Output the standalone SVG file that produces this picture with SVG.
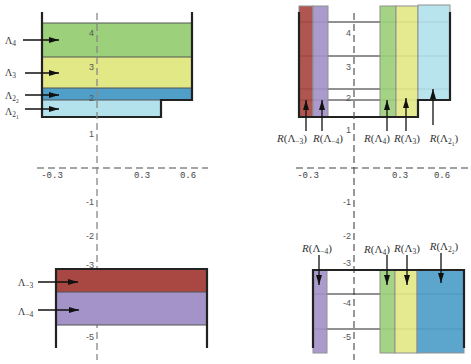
<svg xmlns="http://www.w3.org/2000/svg" width="471" height="364" viewBox="0 0 471 364">
<defs>
<marker id="ah" viewBox="0 0 10 6" refX="10" refY="3" markerWidth="10" markerHeight="6" markerUnits="userSpaceOnUse" orient="auto">
<path d="M0,0 L10,3 L0,6 Z" fill="#111"/>
</marker>
<style>
.ax{stroke:#888;stroke-width:1.3;stroke-dasharray:7 4;fill:none}
.axr{stroke:#444;stroke-width:1.1;stroke-dasharray:7 4;fill:none}
.cont{stroke:#222;stroke-width:2.2;fill:none}
.sep{stroke:#555;stroke-width:1}
.hl{stroke:#222;stroke-width:1}
.bar{stroke:#888;stroke-width:1}
.arr{stroke:#111;stroke-width:1.3;marker-end:url(#ah)}
.tk{font-family:"Liberation Sans",Arial,sans-serif;font-size:9px;fill:#555}
.tx{font-family:"Liberation Mono","Courier New",monospace;font-size:9px;fill:#444}
.lb{font-family:"Liberation Serif","Times New Roman",serif;font-size:10px;fill:#333}
.rl{font-family:"Liberation Serif","Times New Roman",serif;font-size:11px;fill:#333}
.sb{font-size:7.5px}
.ss{font-size:5.5px}
.g{fill:#9dd07b}.y{fill:#e3e887}.b{fill:#4f9fc9}.c{fill:#b3e2ec}.r{fill:#a94843}.p{fill:#a393c8}
</style>
</defs>

<!-- Top-left panel -->
<g id="tl-bands">
<rect class="g" x="42" y="23" width="150" height="34"/>
<rect class="y" x="42" y="57" width="150" height="31"/>
<rect class="b" x="42" y="88" width="150" height="12"/>
<rect class="c" x="42" y="100" width="119" height="17"/>
<line class="sep" x1="42" y1="23" x2="192" y2="23"/>
<line class="sep" x1="42" y1="57" x2="192" y2="57"/>
<line class="sep" x1="42" y1="88" x2="192" y2="88"/>
<line class="sep" x1="42" y1="100" x2="161" y2="100"/>
<path class="cont" d="M42,12 V117 H161 V100 H192 V12"/>
</g>
<g id="tl-axes">
<line class="ax" x1="97" y1="13" x2="97" y2="360"/>
<line class="ax" x1="37" y1="168" x2="208" y2="168"/>
<text class="tk" x="94" y="36" text-anchor="end">4</text>
<text class="tk" x="94" y="70" text-anchor="end">3</text>
<text class="tk" x="94" y="101" text-anchor="end">2</text>
<text class="tk" x="94" y="137" text-anchor="end">1</text>
<text class="tk" x="94" y="205" text-anchor="end">-1</text>
<text class="tk" x="94" y="239" text-anchor="end">-2</text>
<text class="tk" x="94" y="268" text-anchor="end">-3</text>
<text class="tk" x="94" y="306" text-anchor="end">-4</text>
<text class="tk" x="94" y="340" text-anchor="end">-5</text>
<text class="tx" x="52" y="178" text-anchor="middle">-0.3</text>
<text class="tx" x="142" y="178" text-anchor="middle">0.3</text>
<text class="tx" x="188" y="178" text-anchor="middle">0.6</text>
</g>
<g id="tl-labels">
<text class="lb" x="5" y="44">Λ<tspan class="sb" dy="2">4</tspan></text>
<text class="lb" x="5" y="76">Λ<tspan class="sb" dy="2">3</tspan></text>
<text class="lb" x="5" y="99">Λ<tspan class="sb" dy="2">2</tspan><tspan class="ss" dy="2">2</tspan></text>
<text class="lb" x="5" y="115">Λ<tspan class="sb" dy="2">2</tspan><tspan class="ss" dy="2">1</tspan></text>
</g>

<!-- Top-right panel -->
<g id="tr-panel">
<line class="hl" x1="299" y1="22" x2="450" y2="22"/>
<line class="hl" x1="299" y1="56" x2="450" y2="56"/>
<line class="hl" x1="299" y1="89" x2="450" y2="89"/>
<line class="hl" x1="299" y1="100" x2="418" y2="100"/>
<g opacity="0.92">
<rect class="bar r" x="299" y="6" width="14" height="111"/>
<rect class="bar p" x="313" y="6" width="15" height="111"/>
<rect class="bar g" x="380" y="6" width="16" height="111"/>
<rect class="bar y" x="396" y="6" width="22" height="111"/>
<rect class="bar c" x="418" y="5" width="32" height="95"/>
</g>
<path class="cont" d="M299,12 V117 H418 V100 H450 V12"/>
</g>
<g id="tr-axes">
<line class="axr" x1="354" y1="13" x2="354" y2="360"/>
<line class="axr" x1="296" y1="168" x2="470" y2="168"/>
<text class="tk" x="351" y="36" text-anchor="end">4</text>
<text class="tk" x="351" y="70" text-anchor="end">3</text>
<text class="tk" x="351" y="101" text-anchor="end">2</text>
<text class="tk" x="351" y="133" text-anchor="end">1</text>
<text class="tk" x="351" y="205" text-anchor="end">-1</text>
<text class="tk" x="351" y="239" text-anchor="end">-2</text>
<text class="tk" x="351" y="266" text-anchor="end">-3</text>
<text class="tk" x="351" y="306" text-anchor="end">-4</text>
<text class="tk" x="351" y="340" text-anchor="end">-5</text>
<text class="tx" x="308" y="178" text-anchor="middle">-0.3</text>
<text class="tx" x="400" y="178" text-anchor="middle">0.3</text>
<text class="tx" x="442" y="178" text-anchor="middle">0.6</text>
</g>

<!-- Bottom-left panel -->
<g id="bl-panel">
<rect class="r" x="56" y="269" width="151" height="23"/>
<rect class="p" x="56" y="292" width="151" height="33"/>
<line class="sep" x1="56" y1="292" x2="207" y2="292"/>
<line class="sep" x1="56" y1="325" x2="207" y2="325"/>
<path class="cont" d="M56,348 V269 H207 V348"/>
<text class="lb" x="18" y="286" font-size="9">Λ<tspan class="sb" dy="2">−3</tspan></text>
<text class="lb" x="18" y="315" font-size="9">Λ<tspan class="sb" dy="2">−4</tspan></text>
</g>

<!-- Bottom-right panel -->
<g id="br-panel">
<line class="hl" x1="313" y1="294" x2="464" y2="294"/>
<line class="hl" x1="313" y1="329" x2="464" y2="329"/>
<g opacity="0.92">
<rect class="bar p" x="313" y="270" width="14" height="83"/>
<rect class="bar g" x="380" y="270" width="15" height="83"/>
<rect class="bar y" x="395" y="270" width="22" height="83"/>
<rect class="bar b" x="417" y="270" width="47" height="83"/>
</g>
<path class="cont" d="M313,348 V270 H464 V348"/>
</g>

<!-- Connectors -->
<g id="connectors">
<line class="arr" x1="23" y1="40" x2="59" y2="40"/>
<line class="arr" x1="25" y1="73" x2="59" y2="73"/>
<line class="arr" x1="25" y1="95" x2="59" y2="95"/>
<line class="arr" x1="25" y1="109" x2="59" y2="109"/>
<line class="arr" x1="38" y1="282" x2="78" y2="282"/>
<line class="arr" x1="38" y1="310" x2="79" y2="310"/>
<line class="arr" x1="306" y1="131" x2="306" y2="100"/>
<line class="arr" x1="322" y1="131" x2="322" y2="100"/>
<line class="arr" x1="387" y1="131" x2="387" y2="100"/>
<line class="arr" x1="406" y1="131" x2="406" y2="98"/>
<line class="arr" x1="433" y1="125" x2="433" y2="89"/>
<line class="arr" x1="319" y1="255" x2="319" y2="285"/>
<line class="arr" x1="387" y1="255" x2="387" y2="285"/>
<line class="arr" x1="407" y1="255" x2="407" y2="285"/>
<line class="arr" x1="441" y1="253" x2="441" y2="283"/>
</g>

<!-- R labels -->
<g id="r-labels">
<text class="rl" x="292" y="142" text-anchor="middle"><tspan font-style="italic">R</tspan>(Λ<tspan class="sb" dy="2">−3</tspan><tspan dy="-2">)</tspan></text>
<text class="rl" x="328" y="142" text-anchor="middle"><tspan font-style="italic">R</tspan>(Λ<tspan class="sb" dy="2">−4</tspan><tspan dy="-2">)</tspan></text>
<text class="rl" x="377" y="142" text-anchor="middle"><tspan font-style="italic">R</tspan>(Λ<tspan class="sb" dy="2">4</tspan><tspan dy="-2">)</tspan></text>
<text class="rl" x="407" y="142" text-anchor="middle"><tspan font-style="italic">R</tspan>(Λ<tspan class="sb" dy="2">3</tspan><tspan dy="-2">)</tspan></text>
<text class="rl" x="444" y="142" text-anchor="middle"><tspan font-style="italic">R</tspan>(Λ<tspan class="sb" dy="2">2</tspan><tspan class="ss" dy="2">1</tspan><tspan dy="-4">)</tspan></text>
<text class="rl" x="317" y="252" text-anchor="middle"><tspan font-style="italic">R</tspan>(Λ<tspan class="sb" dy="2">−4</tspan><tspan dy="-2">)</tspan></text>
<text class="rl" x="377" y="253" text-anchor="middle"><tspan font-style="italic">R</tspan>(Λ<tspan class="sb" dy="2">4</tspan><tspan dy="-2">)</tspan></text>
<text class="rl" x="407" y="252" text-anchor="middle"><tspan font-style="italic">R</tspan>(Λ<tspan class="sb" dy="2">3</tspan><tspan dy="-2">)</tspan></text>
<text class="rl" x="444" y="250" text-anchor="middle"><tspan font-style="italic">R</tspan>(Λ<tspan class="sb" dy="2">2</tspan><tspan class="ss" dy="2">2</tspan><tspan dy="-4">)</tspan></text>
</g>
</svg>
